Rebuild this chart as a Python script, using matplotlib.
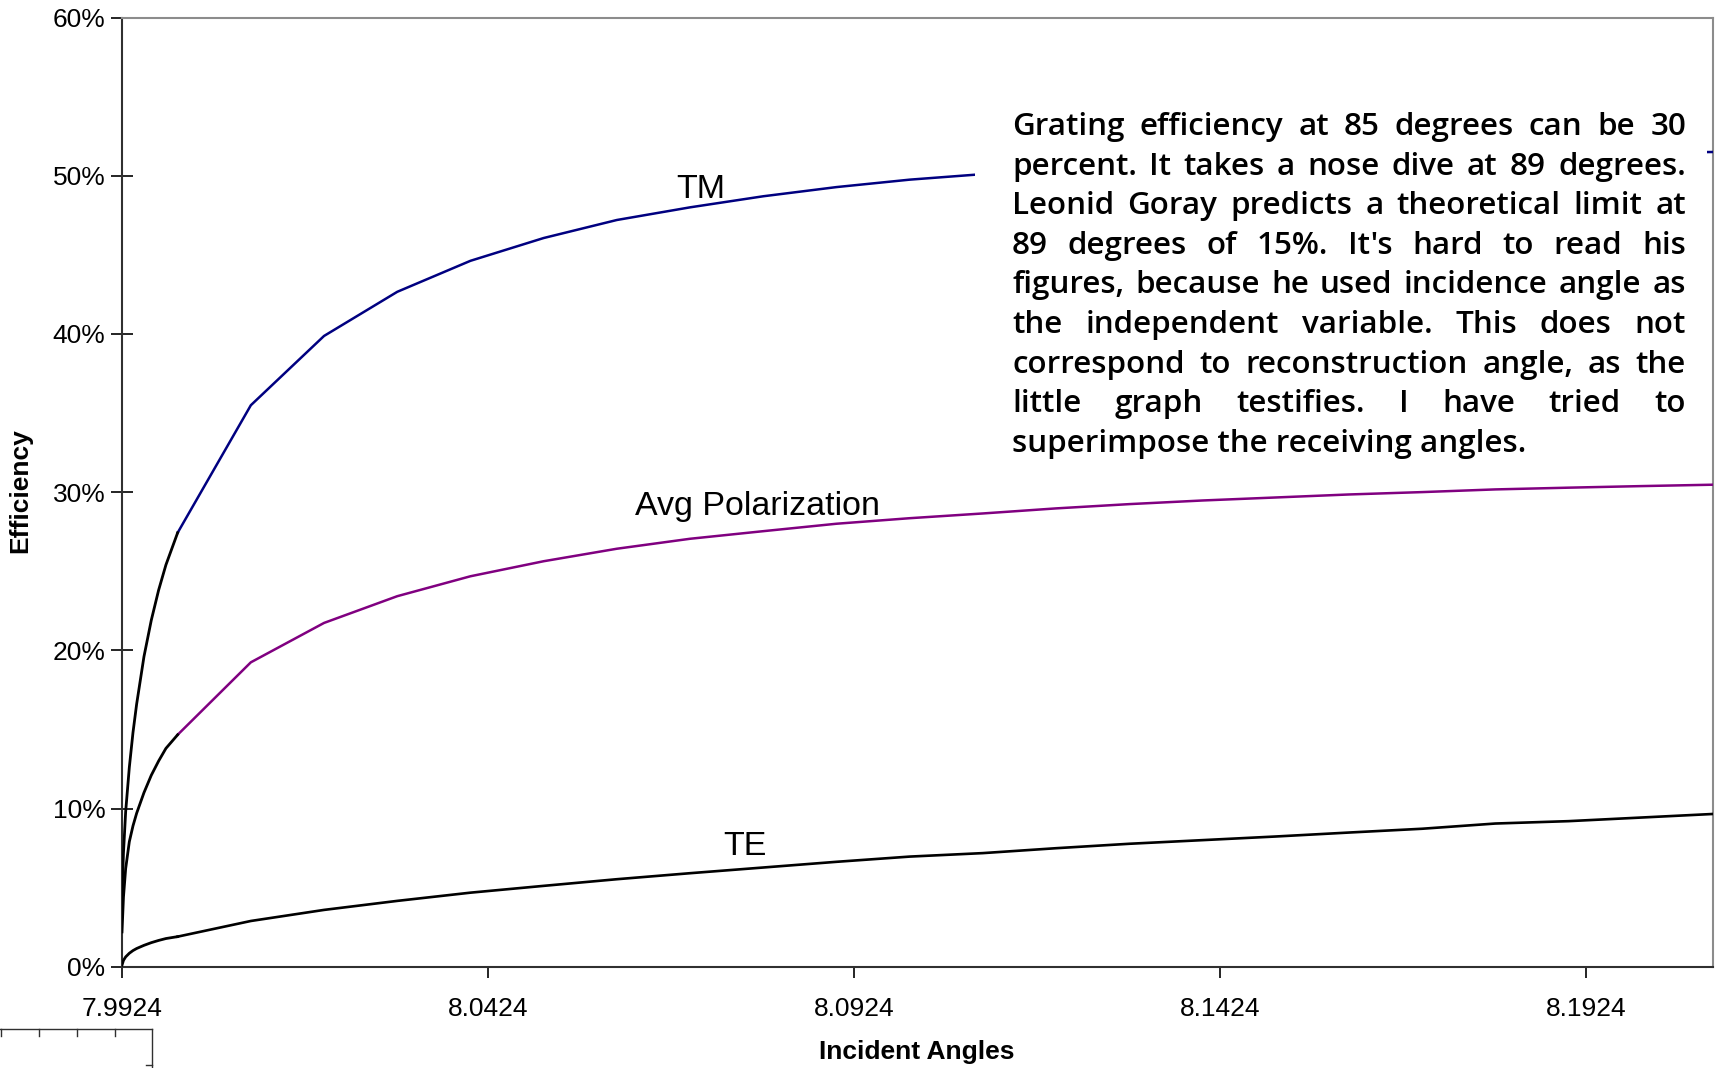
import matplotlib
matplotlib.use("Agg")
import matplotlib.pyplot as plt
from matplotlib.lines import Line2D
from matplotlib.patches import Rectangle
from matplotlib.ticker import FuncFormatter

# ---------------- data ----------------
# steep start region (drawn in black)
x_start = [7.9924, 7.9926, 7.9929, 7.9934, 7.9939, 7.9944, 7.9954, 7.9964, 7.9974, 7.9984, 8.0000]
tm_start = [4.3, 7.2, 9.8, 12.6, 14.8, 16.6, 19.6, 21.9, 23.8, 25.4, 27.43]
avg_start = [2.2, 4.4, 6.2, 7.9, 8.9, 9.7, 11.0, 12.1, 13.0, 13.8, 14.66]
te_start = [0.1, 0.4, 0.62, 0.85, 1.02, 1.15, 1.35, 1.52, 1.66, 1.78, 1.9]

# main region
x_main = [8.00, 8.01, 8.02, 8.03, 8.04, 8.05, 8.06, 8.07, 8.08, 8.09, 8.10,
          8.11, 8.12, 8.13, 8.14, 8.15, 8.16, 8.17, 8.18, 8.19, 8.20, 8.21]
tm_main = [27.43, 35.49, 39.87, 42.66, 44.62, 46.06, 47.2, 48.0, 48.7, 49.28, 49.75,
           50.1, 50.45, 50.7, 50.9, 51.05, 51.2, 51.3, 51.35, 51.4, 51.45, 51.5]
avg_main = [14.66, 19.24, 21.73, 23.42, 24.68, 25.63, 26.42, 27.05, 27.53, 28.0, 28.35,
            28.65, 28.97, 29.24, 29.47, 29.66, 29.85, 30.0, 30.17, 30.28, 30.38, 30.47]
te_main = [1.9, 2.89, 3.59, 4.16, 4.68, 5.11, 5.53, 5.91, 6.27, 6.63, 6.96,
           7.18, 7.49, 7.77, 8.0, 8.23, 8.48, 8.72, 9.05, 9.2, 9.43, 9.66]

x_ticks = [7.9924, 8.0424, 8.0924, 8.1424, 8.1924]
x_tick_labels = ["7.9924", "8.0424", "8.0924", "8.1424", "8.1924"]
y_ticks = [0, 10, 20, 30, 40, 50, 60]

note_lines = [
    "Grating efficiency at 85 degrees can be 30",
    "percent. It takes a nose dive at 89 degrees.",
    "Leonid Goray predicts a theoretical limit at",
    "89 degrees of 15%. It's hard to read his",
    "figures, because he used incidence angle as",
    "the independent variable. This does not",
    "correspond to reconstruction angle, as the",
    "little graph testifies. I have tried to",
    "superimpose the receiving angles.",
]

# ---------------- figure ----------------
plt.rcParams['font.family'] = ['Liberation Sans', 'DejaVu Sans']
W, H = 1719, 1068
fig = plt.figure(figsize=(W / 100, H / 100), dpi=100)
ax = fig.add_axes([122 / W, 1 - 966.7 / H, (1712.7 - 122) / W, (966.7 - 17.5) / H])

ax.plot(x_main, tm_main, color='#000080', lw=1.8, zorder=3)
ax.plot(x_main, avg_main, color='#800080', lw=1.8, zorder=3)
ax.plot(x_main, te_main, color='black', lw=1.9, zorder=3)
ax.plot(x_start, tm_start, color='black', lw=2.0, zorder=3)
ax.plot(x_start, avg_start, color='black', lw=2.0, zorder=3)
ax.plot(x_start, te_start, color='black', lw=2.0, zorder=3)

ax.set_xlim(7.9924, 8.2097)
ax.set_ylim(0, 60)
ax.set_xticks(x_ticks)
ax.set_xticklabels(x_tick_labels)
ax.set_yticks(y_ticks)
ax.yaxis.set_major_formatter(FuncFormatter(lambda v, p: f"{v:.0f}%"))
ax.tick_params(axis='y', direction='inout', length=16, width=1.2, labelsize=19, pad=4)
ax.tick_params(axis='x', direction='out', length=8, width=1.2, labelsize=19, pad=14)

for s in ['top', 'right']:
    ax.spines[s].set_color('#8c8c8c')
    ax.spines[s].set_linewidth(1.5)
for s in ['left', 'bottom']:
    ax.spines[s].set_color('#303030')
    ax.spines[s].set_linewidth(1.5)

ax.set_xlabel("Incident Angles", fontsize=19, fontweight='bold', va='center', ha='center')
ax.set_ylabel("Efficiency", fontsize=19, fontweight='bold', va='center', ha='center')
ax.xaxis.set_label_coords((836 * 1.0963 - 122) / (1712.7 - 122), -(1052 - 966.7) / 949.2)
ax.yaxis.set_label_coords(-(122 - 20) / (1712.7 - 122), (966.7 - 491) / 949.2)

# line labels
ax.text(8.0715, 49.1, "TM", fontsize=24.5, ha='center', va='center', zorder=4)
ax.text(8.0792, 29.1, "Avg Polarization", fontsize=24.5, ha='center', va='center', zorder=4)
ax.text(8.0775, 7.6, "TE", fontsize=24.5, ha='center', va='center', zorder=4)

# white note box that hides the lines beneath
ax.add_patch(Rectangle((0.5363, 0.5233), 0.9964 - 0.5363, 0.9447 - 0.5233,
                       transform=ax.transAxes, facecolor='white', edgecolor='none',
                       zorder=5))

# justified paragraph
fig.canvas.draw()
renderer = fig.canvas.get_renderer()
ax_w_px = ax.get_window_extent(renderer).width
left_f = (1012 - 122) / (1712.7 - 122)
right_f = (1686 - 122) / (1712.7 - 122)
base0 = (966.7 - 135) / 949.2
step = 39.6 / 949.2
note_family = ['Open Sans', 'DejaVu Sans']
note_weight = 600
# choose size so the last (unjustified) line has the reference width (~513 px)
probe = ax.text(0, 0, note_lines[-1], transform=ax.transAxes, family=note_family,
                fontsize=22, fontweight=note_weight)
pw = probe.get_window_extent(renderer).width
probe.remove()
note_size = 22 * 513.0 / pw
note_font = dict(family=note_family, fontsize=note_size, fontweight=note_weight,
                 color='black')
for i, line in enumerate(note_lines):
    y = base0 - i * step
    if i == len(note_lines) - 1:
        ax.text(left_f, y, line, transform=ax.transAxes, ha='left', va='baseline',
                zorder=6, **note_font)
        continue
    words = line.split()
    txts = [ax.text(0, y, w, transform=ax.transAxes, ha='left', va='baseline',
                    zorder=6, **note_font) for w in words]
    widths = [t.get_window_extent(renderer).width / ax_w_px for t in txts]
    gap = ((right_f - left_f) - sum(widths)) / (len(words) - 1)
    xpos = left_f
    for t, w in zip(txts, widths):
        t.set_x(xpos)
        xpos += w + gap

# fragment of the "little graph" at the bottom-left corner
lc = '#303030'
fig.add_artist(Line2D([0 / W, 152 / W], [1 - 1029 / H, 1 - 1029 / H], color=lc, lw=1.0))
for tx in [1, 39, 77, 115]:
    fig.add_artist(Line2D([tx / W, tx / W], [1 - 1029 / H, 1 - 1036 / H], color=lc, lw=1.0))
fig.add_artist(Line2D([152 / W, 152 / W], [1 - 1029 / H, 0], color=lc, lw=1.0))
fig.add_artist(Line2D([146 / W, 152 / W], [1 - 1065 / H, 1 - 1065 / H], color=lc, lw=1.0))

fig.savefig("out.png", dpi=100, facecolor='white')
